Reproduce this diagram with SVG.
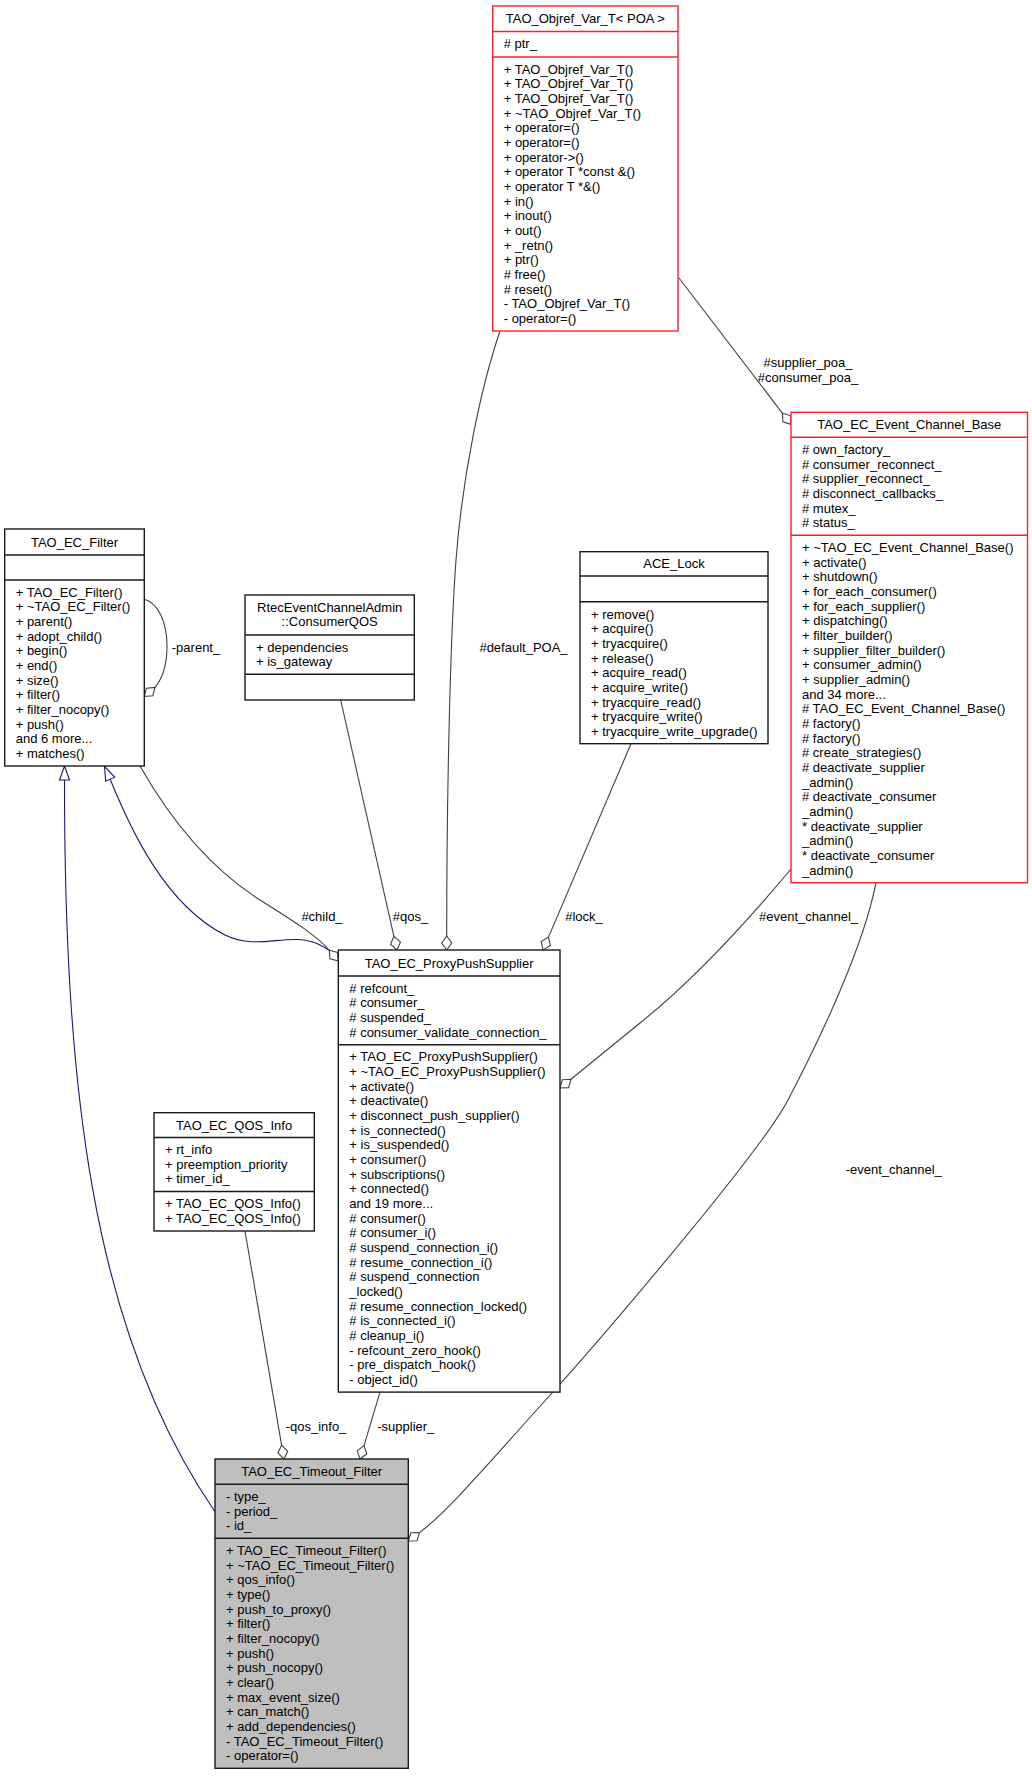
<svg xmlns="http://www.w3.org/2000/svg" width="1032" height="1776" viewBox="0 0 1032 1776">
<style>
  .bg { fill: #ffffff; }
  .box { fill: #ffffff; stroke: #1a1a1a; stroke-width: 1.4; }
  .red { stroke: #ff2020; }
  .focus { fill: #bfbfbf; }
  .sep { stroke: #1a1a1a; stroke-width: 1.4; }
  .sepr { stroke: #ff2020; stroke-width: 1.4; }
  .t { font-family: "Liberation Sans", Arial, Helvetica, sans-serif; font-size: 13px; fill: #000000; }
  .c { text-anchor: middle; }
  .e { fill: none; stroke: #404040; stroke-width: 1.1; }
  .i { fill: none; stroke: #191970; stroke-width: 1.1; }
  .dia { fill: #ffffff; stroke: #404040; stroke-width: 1.1; }
  .tri { fill: #ffffff; stroke: #191970; stroke-width: 1.1; }
</style>
<rect class="bg" x="0" y="0" width="1032" height="1776"/>

<g id="connectors">
  <!-- inheritance: Timeout_Filter -> TAO_EC_Filter -->
  <path class="i" d="M215,1511.7 C90,1330 64.5,1080 64.5,780"/>
  <polygon class="tri" points="64.5,766 69.5,780 59.5,780"/>
  <!-- inheritance: ProxyPushSupplier -> TAO_EC_Filter -->
  <path class="i" d="M110.2,779.2 C130,828 165,905 225,935 C260,952 290,930 320,945 C328,949 334,953 338.3,957"/>
  <polygon class="tri" points="104.5,766.5 114.75,777.15 105.65,781.25"/>
  <!-- #child_ -->
  <path class="e" d="M140,766 C165,810 205,865 260,900 C290,919 316.4,935 329.3,950.3"/>
  <polygon class="dia" points="338.3,961 329.98,958.88 329.3,950.3 337.62,952.42"/>
  <!-- -parent_ self loop -->
  <path class="e" d="M144.3,599.3 C158,603 167,622 167,646 C167,664 162,679 154.94,687.4"/>
  <polygon class="dia" points="144.3,696.5 146.4,688.2 154.94,687.4 152.9,695.75"/>
  <!-- #qos_ -->
  <path class="e" d="M340.7,700 L393.9,936.3"/>
  <polygon class="dia" points="397,950 390.6,944.3 393.9,936.3 400.4,942.1"/>
  <!-- #default_POA_ -->
  <path class="e" d="M500,331 C480,390 462,480 456,560 C450,640 446.7,800 446.7,936"/>
  <polygon class="dia" points="446.7,950 441.7,943 446.7,936 451.7,943"/>
  <!-- #lock_ -->
  <path class="e" d="M631,743.7 L548.5,937.1"/>
  <polygon class="dia" points="543,950 541.15,941.6 548.5,937.1 550.35,945.5"/>
  <!-- #supplier_poa_ #consumer_poa_ -->
  <path class="e" d="M679,278 L782.5,413.3"/>
  <polygon class="dia" points="791,424.4 782.8,421.9 782.5,413.3 790.7,415.8"/>
  <!-- #event_channel_ -->
  <path class="e" d="M791,869 C755,912 700,975 640,1023 C612,1046 590,1064 570.96,1079.3"/>
  <polygon class="dia" points="560,1088 562.37,1079.7 570.96,1079.3 568.59,1087.6"/>
  <!-- -event_channel_ -->
  <path class="e" d="M876,882.7 C864,945 822,1035 788,1100 C760,1154 593,1348 543,1403 C493,1458 449,1510.6 419.5,1532.6"/>
  <polygon class="dia" points="408.3,1541 410.9,1532.8 419.5,1532.6 416.9,1540.8"/>
  <!-- -supplier_ -->
  <path class="e" d="M380,1392.1 L364,1445.6"/>
  <polygon class="dia" points="360,1459 357.2,1450.9 364,1445.6 366.8,1453.7"/>
  <!-- -qos_info_ -->
  <path class="e" d="M245,1231 L281.6,1445.2"/>
  <polygon class="dia" points="284,1459 277.9,1452.9 281.6,1445.2 287.7,1451.3"/>

  <text class="t c" x="808" y="367">#supplier_poa_</text>
  <text class="t c" x="808" y="382">#consumer_poa_</text>
  <text class="t c" x="523.5" y="652">#default_POA_</text>
  <text class="t c" x="196" y="652">-parent_</text>
  <text class="t c" x="322" y="921">#child_</text>
  <text class="t c" x="410.5" y="921">#qos_</text>
  <text class="t c" x="584" y="921">#lock_</text>
  <text class="t c" x="808.5" y="921">#event_channel_</text>
  <text class="t c" x="893.7" y="1173.6">-event_channel_</text>
  <text class="t c" x="316" y="1431.3">-qos_info_</text>
  <text class="t c" x="405.8" y="1431.3">-supplier_</text>
</g>

<g id="node-TAO_Objref_Var_T">
  <rect class="box red" x="492.7" y="6" width="185.3" height="325"/>
  <line class="sepr" x1="492.7" y1="31.5" x2="678" y2="31.5"/>
  <line class="sepr" x1="492.7" y1="57" x2="678" y2="57"/>
  <text class="t c" x="585.35" y="23.3">TAO_Objref_Var_T&lt; POA &gt;</text>
  <text class="t" x="503.7" y="48.3"># ptr_</text>
  <text class="t" x="503.7" y="73.6">+ TAO_Objref_Var_T()<tspan x="503.7" dy="14.67">+ TAO_Objref_Var_T()</tspan><tspan x="503.7" dy="14.67">+ TAO_Objref_Var_T()</tspan><tspan x="503.7" dy="14.67">+ ~TAO_Objref_Var_T()</tspan><tspan x="503.7" dy="14.67">+ operator=()</tspan><tspan x="503.7" dy="14.67">+ operator=()</tspan><tspan x="503.7" dy="14.67">+ operator-&gt;()</tspan><tspan x="503.7" dy="14.67">+ operator T *const &amp;()</tspan><tspan x="503.7" dy="14.67">+ operator T *&amp;()</tspan><tspan x="503.7" dy="14.67">+ in()</tspan><tspan x="503.7" dy="14.67">+ inout()</tspan><tspan x="503.7" dy="14.67">+ out()</tspan><tspan x="503.7" dy="14.67">+ _retn()</tspan><tspan x="503.7" dy="14.67">+ ptr()</tspan><tspan x="503.7" dy="14.67"># free()</tspan><tspan x="503.7" dy="14.67"># reset()</tspan><tspan x="503.7" dy="14.67">- TAO_Objref_Var_T()</tspan><tspan x="503.7" dy="14.67">- operator=()</tspan></text>
</g>

<g id="node-TAO_EC_Event_Channel_Base">
  <rect class="box red" x="791" y="412.3" width="236.5" height="470.4"/>
  <line class="sepr" x1="791" y1="437.3" x2="1027.5" y2="437.3"/>
  <line class="sepr" x1="791" y1="535.3" x2="1027.5" y2="535.3"/>
  <text class="t c" x="909.25" y="429.4">TAO_EC_Event_Channel_Base</text>
  <text class="t" x="802" y="453.9"># own_factory_<tspan x="802" dy="14.67"># consumer_reconnect_</tspan><tspan x="802" dy="14.67"># supplier_reconnect_</tspan><tspan x="802" dy="14.67"># disconnect_callbacks_</tspan><tspan x="802" dy="14.67"># mutex_</tspan><tspan x="802" dy="14.67"># status_</tspan></text>
  <text class="t" x="802" y="551.9">+ ~TAO_EC_Event_Channel_Base()<tspan x="802" dy="14.67">+ activate()</tspan><tspan x="802" dy="14.67">+ shutdown()</tspan><tspan x="802" dy="14.67">+ for_each_consumer()</tspan><tspan x="802" dy="14.67">+ for_each_supplier()</tspan><tspan x="802" dy="14.67">+ dispatching()</tspan><tspan x="802" dy="14.67">+ filter_builder()</tspan><tspan x="802" dy="14.67">+ supplier_filter_builder()</tspan><tspan x="802" dy="14.67">+ consumer_admin()</tspan><tspan x="802" dy="14.67">+ supplier_admin()</tspan><tspan x="802" dy="14.67">and 34 more...</tspan><tspan x="802" dy="14.67"># TAO_EC_Event_Channel_Base()</tspan><tspan x="802" dy="14.67"># factory()</tspan><tspan x="802" dy="14.67"># factory()</tspan><tspan x="802" dy="14.67"># create_strategies()</tspan><tspan x="802" dy="14.67"># deactivate_supplier</tspan><tspan x="802" dy="14.67">_admin()</tspan><tspan x="802" dy="14.67"># deactivate_consumer</tspan><tspan x="802" dy="14.67">_admin()</tspan><tspan x="802" dy="14.67">* deactivate_supplier</tspan><tspan x="802" dy="14.67">_admin()</tspan><tspan x="802" dy="14.67">* deactivate_consumer</tspan><tspan x="802" dy="14.67">_admin()</tspan></text>
</g>

<g id="node-TAO_EC_Filter">
  <rect class="box" x="4.7" y="529" width="139.6" height="237"/>
  <line class="sep" x1="4.7" y1="555" x2="144.3" y2="555"/>
  <line class="sep" x1="4.7" y1="580" x2="144.3" y2="580"/>
  <text class="t c" x="74.5" y="546.6">TAO_EC_Filter</text>
  <text class="t" x="15.7" y="596.6">+ TAO_EC_Filter()<tspan x="15.7" dy="14.67">+ ~TAO_EC_Filter()</tspan><tspan x="15.7" dy="14.67">+ parent()</tspan><tspan x="15.7" dy="14.67">+ adopt_child()</tspan><tspan x="15.7" dy="14.67">+ begin()</tspan><tspan x="15.7" dy="14.67">+ end()</tspan><tspan x="15.7" dy="14.67">+ size()</tspan><tspan x="15.7" dy="14.67">+ filter()</tspan><tspan x="15.7" dy="14.67">+ filter_nocopy()</tspan><tspan x="15.7" dy="14.67">+ push()</tspan><tspan x="15.7" dy="14.67">and 6 more...</tspan><tspan x="15.7" dy="14.67">+ matches()</tspan></text>
</g>

<g id="node-RtecEventChannelAdmin_ConsumerQOS">
  <rect class="box" x="245" y="595" width="169.3" height="105"/>
  <line class="sep" x1="245" y1="635" x2="414.3" y2="635"/>
  <line class="sep" x1="245" y1="674.3" x2="414.3" y2="674.3"/>
  <text class="t c" x="329.65" y="611.6">RtecEventChannelAdmin<tspan x="329.65" dy="14.67">::ConsumerQOS</tspan></text>
  <text class="t" x="256" y="651.6">+ dependencies<tspan x="256" dy="14.67">+ is_gateway</tspan></text>
</g>

<g id="node-ACE_Lock">
  <rect class="box" x="580" y="551.7" width="188" height="192"/>
  <line class="sep" x1="580" y1="576" x2="768" y2="576"/>
  <line class="sep" x1="580" y1="601.7" x2="768" y2="601.7"/>
  <text class="t c" x="674" y="568.4">ACE_Lock</text>
  <text class="t" x="591" y="618.5">+ remove()<tspan x="591" dy="14.67">+ acquire()</tspan><tspan x="591" dy="14.67">+ tryacquire()</tspan><tspan x="591" dy="14.67">+ release()</tspan><tspan x="591" dy="14.67">+ acquire_read()</tspan><tspan x="591" dy="14.67">+ acquire_write()</tspan><tspan x="591" dy="14.67">+ tryacquire_read()</tspan><tspan x="591" dy="14.67">+ tryacquire_write()</tspan><tspan x="591" dy="14.67">+ tryacquire_write_upgrade()</tspan></text>
</g>

<g id="node-TAO_EC_ProxyPushSupplier">
  <rect class="box" x="338.3" y="950" width="221.7" height="442.1"/>
  <line class="sep" x1="338.3" y1="976" x2="560" y2="976"/>
  <line class="sep" x1="338.3" y1="1044.7" x2="560" y2="1044.7"/>
  <text class="t c" x="449.15" y="967.6">TAO_EC_ProxyPushSupplier</text>
  <text class="t" x="349.3" y="992.6"># refcount_<tspan x="349.3" dy="14.67"># consumer_</tspan><tspan x="349.3" dy="14.67"># suspended_</tspan><tspan x="349.3" dy="14.67"># consumer_validate_connection_</tspan></text>
  <text class="t" x="349.3" y="1061.3">+ TAO_EC_ProxyPushSupplier()<tspan x="349.3" dy="14.67">+ ~TAO_EC_ProxyPushSupplier()</tspan><tspan x="349.3" dy="14.67">+ activate()</tspan><tspan x="349.3" dy="14.67">+ deactivate()</tspan><tspan x="349.3" dy="14.67">+ disconnect_push_supplier()</tspan><tspan x="349.3" dy="14.67">+ is_connected()</tspan><tspan x="349.3" dy="14.67">+ is_suspended()</tspan><tspan x="349.3" dy="14.67">+ consumer()</tspan><tspan x="349.3" dy="14.67">+ subscriptions()</tspan><tspan x="349.3" dy="14.67">+ connected()</tspan><tspan x="349.3" dy="14.67">and 19 more...</tspan><tspan x="349.3" dy="14.67"># consumer()</tspan><tspan x="349.3" dy="14.67"># consumer_i()</tspan><tspan x="349.3" dy="14.67"># suspend_connection_i()</tspan><tspan x="349.3" dy="14.67"># resume_connection_i()</tspan><tspan x="349.3" dy="14.67"># suspend_connection</tspan><tspan x="349.3" dy="14.67">_locked()</tspan><tspan x="349.3" dy="14.67"># resume_connection_locked()</tspan><tspan x="349.3" dy="14.67"># is_connected_i()</tspan><tspan x="349.3" dy="14.67"># cleanup_i()</tspan><tspan x="349.3" dy="14.67">- refcount_zero_hook()</tspan><tspan x="349.3" dy="14.67">- pre_dispatch_hook()</tspan><tspan x="349.3" dy="14.67">- object_id()</tspan></text>
</g>

<g id="node-TAO_EC_QOS_Info">
  <rect class="box" x="154" y="1112.7" width="160.3" height="118.3"/>
  <line class="sep" x1="154" y1="1137.5" x2="314.3" y2="1137.5"/>
  <line class="sep" x1="154" y1="1191.5" x2="314.3" y2="1191.5"/>
  <text class="t c" x="234.15" y="1129.7">TAO_EC_QOS_Info</text>
  <text class="t" x="165" y="1154.1">+ rt_info<tspan x="165" dy="14.67">+ preemption_priority</tspan><tspan x="165" dy="14.67">+ timer_id_</tspan></text>
  <text class="t" x="165" y="1208.1">+ TAO_EC_QOS_Info()<tspan x="165" dy="14.67">+ TAO_EC_QOS_Info()</tspan></text>
</g>

<g id="node-TAO_EC_Timeout_Filter">
  <rect class="box focus" x="215" y="1459" width="193.3" height="309.3"/>
  <line class="sep" x1="215" y1="1484.3" x2="408.3" y2="1484.3"/>
  <line class="sep" x1="215" y1="1538.3" x2="408.3" y2="1538.3"/>
  <text class="t c" x="311.65" y="1476.3">TAO_EC_Timeout_Filter</text>
  <text class="t" x="226" y="1501.1">- type_<tspan x="226" dy="14.67">- period_</tspan><tspan x="226" dy="14.67">- id_</tspan></text>
  <text class="t" x="226" y="1554.9">+ TAO_EC_Timeout_Filter()<tspan x="226" dy="14.67">+ ~TAO_EC_Timeout_Filter()</tspan><tspan x="226" dy="14.67">+ qos_info()</tspan><tspan x="226" dy="14.67">+ type()</tspan><tspan x="226" dy="14.67">+ push_to_proxy()</tspan><tspan x="226" dy="14.67">+ filter()</tspan><tspan x="226" dy="14.67">+ filter_nocopy()</tspan><tspan x="226" dy="14.67">+ push()</tspan><tspan x="226" dy="14.67">+ push_nocopy()</tspan><tspan x="226" dy="14.67">+ clear()</tspan><tspan x="226" dy="14.67">+ max_event_size()</tspan><tspan x="226" dy="14.67">+ can_match()</tspan><tspan x="226" dy="14.67">+ add_dependencies()</tspan><tspan x="226" dy="14.67">- TAO_EC_Timeout_Filter()</tspan><tspan x="226" dy="14.67">- operator=()</tspan></text>
</g>
</svg>
